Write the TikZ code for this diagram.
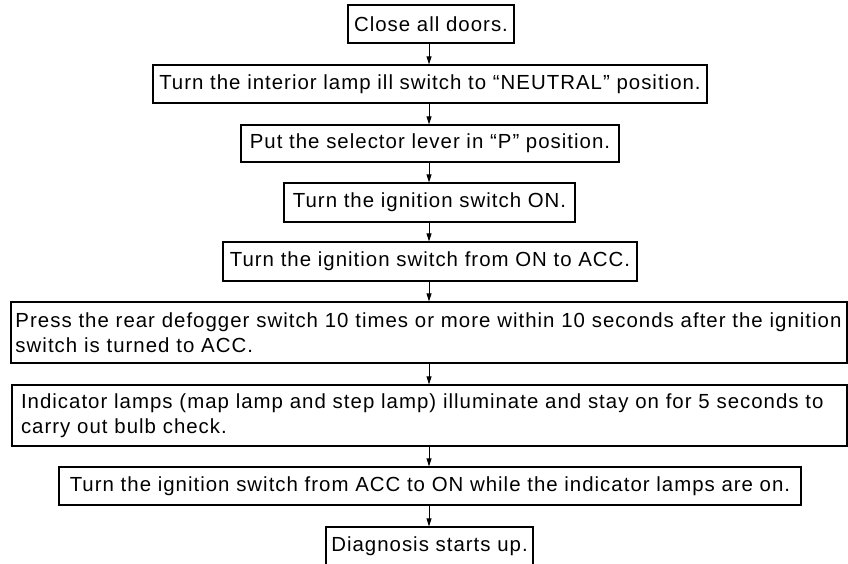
\documentclass[tikz,border=0pt]{standalone}
\usepackage{fontspec}
\setmainfont{Liberation Sans}[LetterSpace=5]
\usetikzlibrary{arrows.meta}
\newcommand{\boxfont}{\fontsize{20.4}{25}\selectfont}
\begin{document}
\begin{tikzpicture}[x=1pt,y=-1pt,
  box/.style={draw, line width=1.3pt, inner sep=0pt, minimum height=38pt, font=\boxfont},
  twobox/.style={box, minimum height=61pt, align=left},
  arr/.style={-{Triangle[length=8pt,width=5pt]}, line width=0.9pt}]
\useasboundingbox (0,0) rectangle (848,563);
\coordinate (axis) at (429,0);
\node[box, minimum width=166pt] (b1) at (431,24) {Close all doors.};
\node[box, minimum width=554pt] (b2) at (430,84) {Turn the interior lamp ill switch to “NEUTRAL” position.};
\node[box, minimum width=378pt, minimum height=37pt] (b3) at (430,143.5) {Put the selector lever in “P” position.};
\node[box, minimum width=291pt, minimum height=39pt] (b4) at (429.5,202.5) {Turn the ignition switch ON.};
\node[box, minimum width=414pt, minimum height=39pt] (b5) at (430,261.5) {Turn the ignition switch from ON to ACC.};
\node[twobox, text width=827pt, inner xsep=4.5pt] (b6) at (429,332.5)
  {\mbox{Press the rear defogger switch 10 times or more within 10 seconds after the ignition}\\\mbox{switch is turned to ACC.}};
\node[twobox, text width=817pt, inner xsep=9pt] (b7) at (429.5,415.5)
  {\mbox{Indicator lamps (map lamp and step lamp) illuminate and stay on for 5 seconds to}\\\mbox{carry out bulb check.}};
\node[box, minimum width=742pt] (b8) at (430,486) {Turn the ignition switch from ACC to ON while the indicator lamps are on.};
\node[box, minimum width=207pt] (b9) at (429.5,546) {Diagnosis starts up.};
\foreach \a/\b in {b1/b2,b2/b3,b3/b4,b4/b5,b5/b6,b6/b7,b7/b8,b8/b9}
  \draw[arr] (\a.south -| axis) -- (\b.north -| axis);
\end{tikzpicture}
\end{document}
